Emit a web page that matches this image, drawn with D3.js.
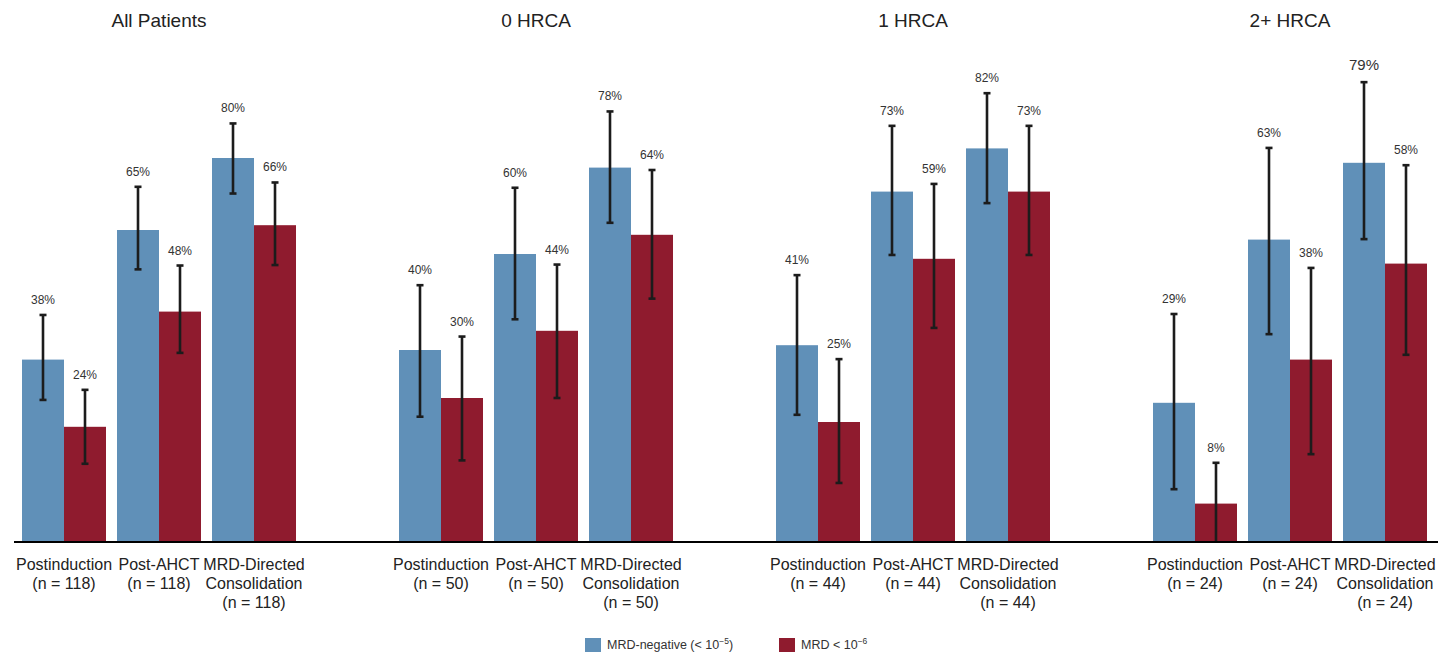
<!DOCTYPE html>
<html>
<head>
<meta charset="utf-8">
<script src="https://cdn.jsdelivr.net/npm/d3@7"></script>
<style>
  html, body { margin: 0; padding: 0; background: #fff; }
  svg { display: block; font-family: "Liberation Sans", Arial, Helvetica, sans-serif; }
</style>
</head>
<body>
<svg id="chart" width="1438" height="652"></svg>
<script>
// ---- data ----
const panels = ["All Patients", "0 HRCA", "1 HRCA", "2+ HRCA"];
const stages = ["Postinduction", "Post-AHCT", "MRD-Directed Consolidation"];
const stageLabelLines = [["Postinduction"], ["Post-AHCT"], ["MRD-Directed", "Consolidation"]];
const panelN = [118, 50, 44, 24];
const seriesNames = ["MRD-negative (< 10^-5)", "MRD < 10^-6"];

// MRD-negative (<1e-5) rates, % (rows = panels, cols = stages)
const mrd5 = [[38, 65, 80], [40, 60, 78], [41, 73, 82], [29, 63, 79]];
const mrd5Lo = [[29.6, 56.8, 72.6], [26.1, 46.4, 66.5], [26.5, 59.8, 70.6], [11.0, 43.3, 63.1]];
const mrd5Hi = [[47.3, 74.0, 87.2], [53.5, 73.8, 89.7], [55.6, 86.7, 93.5], [47.5, 82.1, 95.8]];

// MRD < 1e-6 rates, %
const mrd6 = [[24, 48, 66], [30, 44, 64], [25, 59, 73], [8, 38, 58]];
const mrd6Lo = [[16.3, 39.4, 57.7], [17.0, 30.0, 50.7], [12.3, 44.6, 59.8], [0, 18.3, 39.0]];
const mrd6Hi = [[31.7, 57.6, 74.9], [42.8, 57.8, 77.5], [38.1, 74.6, 86.7], [16.5, 57.1, 78.5]];

const colors = ["#6090b8", "#8f1b2e"];

// ---- layout ----
const svg = d3.select("#chart");
const baseY = 542;
const y = d3.scaleLinear().domain([0, 100]).range([baseY, baseY - 480]);

const x0 = d3.scaleBand().domain(panels).range([22, 1427]).paddingInner(0.2732).paddingOuter(0);
const x1 = d3.scaleBand().domain(stages).range([0, x0.bandwidth()]).paddingInner(0.1158).paddingOuter(0);
const x2 = d3.scaleBand().domain(seriesNames).range([0, x1.bandwidth()]).padding(0);

const records = [];
panels.forEach((p, pi) => {
  stages.forEach((s, si) => {
    records.push({ panel: p, pi, stage: s, si, series: seriesNames[0], k: 0,
      v: mrd5[pi][si], lo: mrd5Lo[pi][si], hi: mrd5Hi[pi][si] });
    records.push({ panel: p, pi, stage: s, si, series: seriesNames[1], k: 1,
      v: mrd6[pi][si], lo: mrd6Lo[pi][si], hi: mrd6Hi[pi][si] });
  });
});
const xPos = d => x0(d.panel) + x1(d.stage) + x2(d.series);

// bars
svg.append("g").selectAll("rect").data(records).join("rect")
  .attr("x", d => xPos(d))
  .attr("y", d => y(d.v))
  .attr("width", x2.bandwidth())
  .attr("height", d => baseY - y(d.v))
  .attr("fill", d => colors[d.k]);

// error bars
const eb = svg.append("g").attr("stroke", "#1c1c1c").attr("stroke-width", 2.6);
records.forEach(d => {
  const cx = xPos(d) + x2.bandwidth() / 2;
  eb.append("line").attr("x1", cx).attr("x2", cx).attr("y1", y(d.hi)).attr("y2", y(d.lo));
  eb.append("line").attr("x1", cx - 3.5).attr("x2", cx + 3.5).attr("y1", y(d.hi)).attr("y2", y(d.hi));
  if (d.lo > 0) eb.append("line").attr("x1", cx - 3.5).attr("x2", cx + 3.5).attr("y1", y(d.lo)).attr("y2", y(d.lo));
});

// value labels
svg.append("g").selectAll("text").data(records).join("text")
  .attr("x", d => xPos(d) + x2.bandwidth() / 2)
  .attr("y", d => y(d.hi) - ((d.pi === 3 && d.si === 2 && d.k === 0) ? 12 : 11))
  .attr("text-anchor", "middle")
  .attr("fill", "#333")
  .attr("font-size", d => (d.pi === 3 && d.si === 2 && d.k === 0) ? 15 : 12)
  .text(d => d.v + "%");

// baseline axis
svg.append("line").attr("x1", 14).attr("x2", 1438).attr("y1", baseY).attr("y2", baseY)
  .attr("stroke", "#000").attr("stroke-width", 2.2);

// panel titles
svg.append("g").selectAll("text").data(panels).join("text")
  .attr("x", d => x0(d) + x0.bandwidth() / 2)
  .attr("y", 27)
  .attr("text-anchor", "middle")
  .attr("font-size", 19)
  .attr("fill", "#222")
  .text(d => d);

// category labels
const cat = svg.append("g").attr("font-size", 16).attr("fill", "#222").attr("text-anchor", "middle");
panels.forEach((p, pi) => {
  stages.forEach((s, si) => {
    const cx = x0(p) + x1(s) + x1.bandwidth() / 2;
    const lines = stageLabelLines[si].concat(["(n = " + panelN[pi] + ")"]);
    const t = cat.append("text").attr("x", cx).attr("y", 570);
    lines.forEach((ln, li) => {
      t.append("tspan").attr("x", cx).attr("dy", li === 0 ? 0 : 19).text(ln);
    });
  });
});

// legend
const leg = svg.append("g").attr("font-size", 12.5).attr("fill", "#333");
const legItems = [
  { x: 585, base: "MRD-negative (< 10", sup: "\u22125", tail: ")", c: colors[0] },
  { x: 779, base: "MRD < 10", sup: "\u22126", tail: "", c: colors[1] }
];
legItems.forEach(it => {
  leg.append("rect").attr("x", it.x).attr("y", 638).attr("width", 16).attr("height", 14).attr("fill", it.c);
  const t = leg.append("text").attr("x", it.x + 22).attr("y", 649);
  t.append("tspan").text(it.base);
  t.append("tspan").attr("dy", -5).attr("font-size", 8.5).text(it.sup);
  if (it.tail) t.append("tspan").attr("dy", 5).text(it.tail);
});
</script>
</body>
</html>
